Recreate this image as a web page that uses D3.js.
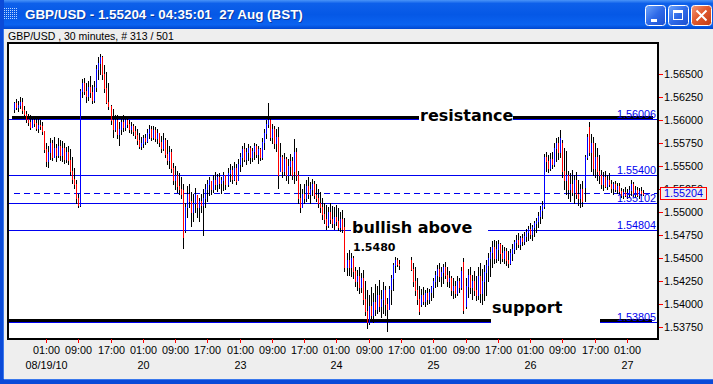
<!DOCTYPE html>
<html><head><meta charset="utf-8">
<script src="https://cdn.jsdelivr.net/npm/d3@7"></script>
<style>
html,body{margin:0;padding:0;background:#EEEEEE;overflow:hidden}
svg{display:block}
text{white-space:pre}
</style></head><body>
<svg id="c" width="713" height="384"></svg>
<script>
const windowTitle = "GBP/USD - 1.55204 - 04:35:01  27 Aug (BST)";
const subTitle = "GBP/USD , 30 minutes, # 313 / 501";

const barHigh = [
1.5620,1.5623,1.5621,1.5625,1.5624,1.5615,1.5610,1.5606,1.5605,1.5603,
1.5604,1.5603,1.5601,1.5600,1.5598,1.5588,1.5575,1.5572,1.5580,1.5578,
1.5581,1.5574,1.5580,1.5578,1.5577,1.5575,1.5571,1.5572,1.5568,1.5560,
1.5548,1.5535,1.5520,1.5634,1.5645,1.5646,1.5640,1.5642,1.5648,1.5638,
1.5642,1.5660,1.5668,1.5672,1.5670,1.5660,1.5652,1.5640,1.5616,1.5612,
1.5605,1.5605,1.5598,1.5602,1.5605,1.5603,1.5604,1.5600,1.5598,1.5596,
1.5594,1.5590,1.5586,1.5582,1.5584,1.5585,1.5590,1.5595,1.5593,1.5594,
1.5592,1.5590,1.5586,1.5583,1.5586,1.5580,1.5578,1.5572,1.5568,1.5553,
1.5550,1.5545,1.5542,1.5538,1.5530,1.5510,1.5528,1.5530,1.5522,1.5520,
1.5526,1.5518,1.5515,1.5520,1.5525,1.5530,1.5535,1.5538,1.5534,1.5540,
1.5543,1.5541,1.5542,1.5538,1.5543,1.5540,1.5548,1.5552,1.5550,1.5554,
1.5552,1.5558,1.5564,1.5572,1.5575,1.5570,1.5574,1.5572,1.5570,1.5575,
1.5574,1.5572,1.5570,1.5580,1.5590,1.5600,1.5619,1.5602,1.5596,1.5594,
1.5590,1.5592,1.5575,1.5562,1.5564,1.5560,1.5558,1.5563,1.5560,1.5579,
1.5570,1.5545,1.5530,1.5525,1.5530,1.5535,1.5538,1.5533,1.5536,1.5534,
1.5530,1.5525,1.5522,1.5515,1.5510,1.5508,1.5505,1.5510,1.5507,1.5505,
1.5508,1.5504,1.5500,1.5502,1.5493,1.5455,1.5459,1.5455,1.5452,1.5440,
1.5437,1.5440,1.5434,1.5437,1.5425,1.5415,1.5410,1.5418,1.5412,1.5422,
1.5420,1.5426,1.5415,1.5424,1.5420,1.5407,1.5420,1.5432,1.5445,1.5451,
1.5450,1.5448,null,null,null,null,null,1.5451,1.5445,1.5440,
1.5428,1.5420,1.5416,1.5418,1.5415,1.5417,1.5416,1.5420,1.5428,1.5436,
1.5442,1.5445,1.5440,1.5444,1.5446,1.5440,1.5436,1.5430,1.5428,1.5425,
1.5430,1.5428,1.5440,1.5450,1.5428,1.5438,1.5440,1.5432,1.5436,1.5430,
1.5440,1.5445,1.5438,1.5442,1.5448,1.5455,1.5462,1.5468,1.5470,1.5468,
1.5470,1.5466,1.5464,1.5462,1.5461,1.5458,1.5460,1.5465,1.5470,1.5475,
1.5477,1.5474,1.5476,1.5478,1.5482,1.5485,1.5488,1.5486,1.5490,1.5494,
1.5500,1.5506,1.5512,1.5563,1.5565,1.5562,1.5564,1.5565,1.5575,1.5580,
1.5582,1.5589,1.5578,1.5570,1.5566,1.5545,1.5542,1.5546,1.5540,1.5544,
1.5535,1.5530,1.5534,1.5562,1.5585,1.5598,1.5585,1.5582,1.5575,1.5570,
1.5562,1.5546,1.5543,1.5545,1.5540,1.5542,1.5535,1.5533,1.5534,1.5532,
1.5531,1.5526,1.5525,1.5527,1.5525,1.5528,1.5535,1.5533,1.5528,1.5527,
1.5526,1.5527,1.5524];

const barLow = [
1.5609,1.5612,1.5610,1.5613,1.5608,1.5603,1.5598,1.5595,1.5590,1.5592,
1.5594,1.5589,1.5587,1.5590,1.5585,1.5565,1.5550,1.5549,1.5558,1.5556,
1.5560,1.5555,1.5560,1.5557,1.5555,1.5553,1.5554,1.5552,1.5540,1.5532,
1.5526,1.5510,1.5505,1.5506,1.5625,1.5628,1.5620,1.5622,1.5625,1.5618,
1.5620,1.5632,1.5645,1.5650,1.5645,1.5630,1.5618,1.5612,1.5596,1.5582,
1.5588,1.5580,1.5573,1.5585,1.5588,1.5589,1.5592,1.5587,1.5586,1.5584,
1.5580,1.5574,1.5570,1.5568,1.5571,1.5574,1.5576,1.5580,1.5578,1.5579,
1.5577,1.5575,1.5572,1.5565,1.5567,1.5560,1.5552,1.5548,1.5543,1.5530,
1.5525,1.5522,1.5520,1.5515,1.5461,1.5478,1.5495,1.5505,1.5485,1.5490,
1.5500,1.5495,1.5490,1.5500,1.5475,1.5505,1.5512,1.5518,1.5520,1.5522,
1.5525,1.5523,1.5526,1.5521,1.5524,1.5525,1.5528,1.5534,1.5532,1.5535,
1.5530,1.5535,1.5545,1.5550,1.5555,1.5552,1.5556,1.5553,1.5555,1.5558,
1.5560,1.5553,1.5556,1.5558,1.5568,1.5580,1.5592,1.5578,1.5575,1.5570,
1.5566,1.5526,1.5545,1.5538,1.5540,1.5535,1.5532,1.5540,1.5536,1.5531,
1.5535,1.5510,1.5500,1.5505,1.5510,1.5512,1.5515,1.5510,1.5518,1.5515,
1.5512,1.5505,1.5500,1.5492,1.5488,1.5482,1.5484,1.5488,1.5484,1.5482,
1.5486,1.5480,1.5479,1.5478,1.5436,1.5432,1.5432,1.5430,1.5428,1.5420,
1.5415,1.5412,1.5413,1.5400,1.5388,1.5374,1.5378,1.5383,1.5380,1.5388,
1.5390,1.5392,1.5386,1.5390,1.5388,1.5371,1.5395,1.5400,1.5415,1.5435,
1.5441,1.5438,null,null,null,null,null,1.5437,1.5420,1.5410,
1.5400,1.5389,1.5398,1.5400,1.5398,1.5400,1.5401,1.5404,1.5408,1.5418,
1.5420,1.5425,1.5420,1.5423,1.5428,1.5420,1.5418,1.5410,1.5407,1.5408,
1.5410,1.5413,1.5416,1.5390,1.5396,1.5408,1.5412,1.5405,1.5410,1.5404,
1.5405,1.5402,1.5400,1.5404,1.5410,1.5425,1.5430,1.5440,1.5445,1.5446,
1.5448,1.5445,1.5447,1.5445,1.5442,1.5440,1.5443,1.5448,1.5455,1.5460,
1.5462,1.5460,1.5464,1.5465,1.5468,1.5470,1.5472,1.5470,1.5474,1.5478,
1.5484,1.5488,1.5494,1.5504,1.5545,1.5543,1.5546,1.5548,1.5550,1.5555,
1.5558,1.5560,1.5538,1.5525,1.5520,1.5515,1.5512,1.5518,1.5510,1.5515,
1.5508,1.5505,1.5507,1.5512,1.5558,1.5562,1.5545,1.5540,1.5538,1.5535,
1.5532,1.5526,1.5524,1.5527,1.5525,1.5528,1.5522,1.5520,1.5523,1.5521,
1.5520,1.5516,1.5515,1.5517,1.5515,1.5517,1.5518,1.5517,1.5516,1.5517,
1.5515,1.5518,1.5518];

const barOpen = [
1.5612,1.5618,1.5614,1.5616,1.5620,1.5611,1.5606,1.5601,1.5598,1.5592,
1.5600,1.5597,1.5591,1.5595,1.5593,1.5588,1.5568,1.5555,1.5565,1.5575,
1.5560,1.5570,1.5562,1.5572,1.5562,1.5570,1.5558,1.5565,1.5556,1.5545,
1.5536,1.5530,1.5515,1.5508,1.5632,1.5640,1.5632,1.5626,1.5636,1.5630,
1.5622,1.5636,1.5655,1.5662,1.5668,1.5650,1.5635,1.5620,1.5615,1.5600,
1.5590,1.5600,1.5585,1.5590,1.5598,1.5592,1.5600,1.5596,1.5590,1.5594,
1.5588,1.5584,1.5578,1.5572,1.5575,1.5580,1.5577,1.5586,1.5590,1.5582,
1.5589,1.5580,1.5586,1.5576,1.5570,1.5578,1.5563,1.5556,1.5565,1.5548,
1.5535,1.5540,1.5528,1.5525,1.5524,1.5480,1.5505,1.5520,1.5512,1.5500,
1.5510,1.5518,1.5505,1.5512,1.5508,1.5515,1.5525,1.5530,1.5534,1.5525,
1.5535,1.5530,1.5538,1.5532,1.5535,1.5540,1.5530,1.5542,1.5546,1.5536,
1.5548,1.5535,1.5552,1.5560,1.5568,1.5558,1.5565,1.5570,1.5560,1.5566,
1.5572,1.5563,1.5568,1.5560,1.5576,1.5586,1.5596,1.5600,1.5582,1.5590,
1.5575,1.5582,1.5545,1.5560,1.5545,1.5558,1.5540,1.5550,1.5555,1.5545,
1.5565,1.5540,1.5515,1.5505,1.5520,1.5515,1.5528,1.5520,1.5525,1.5530,
1.5518,1.5515,1.5510,1.5505,1.5498,1.5492,1.5486,1.5500,1.5492,1.5488,
1.5495,1.5490,1.5484,1.5492,1.5484,1.5440,1.5448,1.5440,1.5450,1.5436,
1.5425,1.5430,1.5418,1.5428,1.5405,1.5392,1.5380,1.5398,1.5388,1.5402,
1.5395,1.5410,1.5398,1.5405,1.5415,1.5400,1.5395,1.5416,1.5428,1.5442,
1.5448,1.5444,null,null,null,null,null,1.5448,1.5438,1.5425,
1.5415,1.5405,1.5400,1.5410,1.5403,1.5412,1.5405,1.5413,1.5418,1.5425,
1.5432,1.5438,1.5430,1.5435,1.5440,1.5432,1.5425,1.5428,1.5415,1.5420,
1.5412,1.5425,1.5418,1.5446,1.5398,1.5420,1.5432,1.5418,1.5425,1.5415,
1.5410,1.5430,1.5412,1.5425,1.5435,1.5442,1.5450,1.5456,1.5462,1.5450,
1.5460,1.5465,1.5455,1.5450,1.5458,1.5448,1.5445,1.5455,1.5460,1.5467,
1.5470,1.5465,1.5472,1.5468,1.5474,1.5478,1.5482,1.5476,1.5484,1.5488,
1.5490,1.5496,1.5502,1.5507,1.5560,1.5555,1.5548,1.5558,1.5552,1.5570,
1.5575,1.5565,1.5575,1.5545,1.5535,1.5540,1.5525,1.5530,1.5522,1.5535,
1.5520,1.5515,1.5525,1.5527,1.5560,1.5592,1.5565,1.5575,1.5548,1.5560,
1.5545,1.5540,1.5530,1.5538,1.5528,1.5535,1.5530,1.5526,1.5530,1.5525,
1.5528,1.5523,1.5519,1.5522,1.5518,1.5521,1.5524,1.5530,1.5520,1.5524,
1.5519,1.5523,1.5521];

const barClose = [
1.5618,1.5614,1.5616,1.5620,1.5611,1.5606,1.5601,1.5598,1.5592,1.5600,
1.5597,1.5591,1.5595,1.5593,1.5588,1.5568,1.5555,1.5565,1.5575,1.5560,
1.5570,1.5562,1.5572,1.5562,1.5570,1.5558,1.5565,1.5556,1.5545,1.5536,
1.5530,1.5515,1.5508,1.5632,1.5640,1.5632,1.5626,1.5636,1.5630,1.5622,
1.5636,1.5655,1.5662,1.5668,1.5650,1.5635,1.5620,1.5615,1.5600,1.5590,
1.5600,1.5585,1.5590,1.5598,1.5592,1.5600,1.5596,1.5590,1.5594,1.5588,
1.5584,1.5578,1.5572,1.5575,1.5580,1.5577,1.5586,1.5590,1.5582,1.5589,
1.5580,1.5586,1.5576,1.5570,1.5578,1.5563,1.5556,1.5565,1.5548,1.5535,
1.5540,1.5528,1.5525,1.5520,1.5473,1.5505,1.5520,1.5512,1.5500,1.5510,
1.5520,1.5505,1.5512,1.5508,1.5515,1.5525,1.5530,1.5535,1.5525,1.5535,
1.5530,1.5538,1.5532,1.5535,1.5540,1.5530,1.5542,1.5546,1.5536,1.5548,
1.5534,1.5552,1.5560,1.5568,1.5558,1.5565,1.5570,1.5560,1.5566,1.5572,
1.5563,1.5568,1.5560,1.5576,1.5586,1.5596,1.5600,1.5582,1.5590,1.5575,
1.5582,1.5540,1.5560,1.5545,1.5558,1.5540,1.5550,1.5555,1.5540,1.5565,
1.5540,1.5515,1.5505,1.5520,1.5515,1.5528,1.5520,1.5525,1.5530,1.5518,
1.5515,1.5510,1.5505,1.5498,1.5492,1.5486,1.5500,1.5492,1.5488,1.5495,
1.5490,1.5484,1.5492,1.5482,1.5440,1.5448,1.5440,1.5450,1.5436,1.5425,
1.5430,1.5418,1.5428,1.5405,1.5392,1.5380,1.5398,1.5388,1.5402,1.5395,
1.5410,1.5398,1.5405,1.5415,1.5400,1.5395,1.5416,1.5428,1.5442,1.5448,
1.5444,1.5442,null,null,null,null,null,1.5438,1.5425,1.5415,
1.5405,1.5392,1.5410,1.5403,1.5412,1.5405,1.5413,1.5418,1.5425,1.5432,
1.5438,1.5430,1.5435,1.5440,1.5432,1.5425,1.5428,1.5415,1.5420,1.5412,
1.5425,1.5418,1.5436,1.5393,1.5420,1.5432,1.5418,1.5425,1.5415,1.5410,
1.5430,1.5412,1.5425,1.5435,1.5442,1.5450,1.5456,1.5462,1.5450,1.5460,
1.5465,1.5455,1.5450,1.5458,1.5448,1.5445,1.5455,1.5460,1.5467,1.5470,
1.5465,1.5472,1.5468,1.5474,1.5478,1.5482,1.5476,1.5484,1.5488,1.5490,
1.5496,1.5502,1.5508,1.5560,1.5555,1.5548,1.5558,1.5552,1.5570,1.5575,
1.5565,1.5580,1.5545,1.5535,1.5540,1.5525,1.5530,1.5522,1.5535,1.5520,
1.5515,1.5525,1.5512,1.5560,1.5582,1.5565,1.5575,1.5548,1.5560,1.5545,
1.5540,1.5530,1.5538,1.5528,1.5535,1.5530,1.5526,1.5530,1.5525,1.5528,
1.5523,1.5519,1.5522,1.5518,1.5521,1.5524,1.5530,1.5520,1.5524,1.5519,
1.5523,1.5521,1.5520];

const priceTicks = [1.5375,1.5400,1.5425,1.5450,1.5475,1.5500,1.5525,1.5550,1.5575,1.5600,1.5625,1.5650];
const timeLabels = ["01:00","09:00","17:00"];
const dayLabels = ["08/19/10","20","23","24","25","26","27"];
const levelLines = [1.56006, 1.55400, 1.55102, 1.54804, 1.53805];
const currentPrice = 1.55204;
const resistanceLevel = 1.5603;
const supportLevel = 1.5383;
const noteTexts = ["resistance","bullish above","support","1.5480"];

const svg = d3.select("#c");
const N = barHigh.length;
const x = d3.scaleLinear().domain([0, N - 1]).range([13.7, 643]).interpolate(d3.interpolateRound);
const y = d3.scaleLinear().domain([1.5375, 1.565]).range([327, 74]).interpolate(d3.interpolateRound);
const AX = "'Liberation Sans', Arial, sans-serif";
const BOLD = "'DejaVu Sans', Verdana, sans-serif";

// ---------- window chrome ----------
const defs = svg.append("defs");
const tg = defs.append("linearGradient").attr("id","tg").attr("x1",0).attr("y1",0).attr("x2",0).attr("y2",1);
[[0,"#4A94F8"],[0.12,"#0E60EA"],[0.5,"#0558E6"],[0.85,"#0B63F0"],[1,"#0047D0"]]
  .forEach(s => tg.append("stop").attr("offset", s[0]).attr("stop-color", s[1]));
const bg = defs.append("linearGradient").attr("id","bg").attr("x1",0).attr("y1",0).attr("x2",1).attr("y2",1);
[[0,"#6FA6FB"],[0.5,"#2F6AE8"],[1,"#1B4ECF"]].forEach(s => bg.append("stop").attr("offset", s[0]).attr("stop-color", s[1]));
const cg = defs.append("linearGradient").attr("id","cg").attr("x1",0).attr("y1",0).attr("x2",1).attr("y2",1);
[[0,"#F29A7C"],[0.45,"#E25A2E"],[1,"#C03A14"]].forEach(s => cg.append("stop").attr("offset", s[0]).attr("stop-color", s[1]));
const pat = defs.append("pattern").attr("id","dots").attr("width",2).attr("height",2).attr("patternUnits","userSpaceOnUse");
pat.append("rect").attr("width",1).attr("height",1).attr("fill","#B8D4FF");

svg.append("rect").attr("width",713).attr("height",384).attr("fill","#EEEEEE");
svg.append("rect").attr("width",713).attr("height",29).attr("fill","url(#tg)");
svg.append("rect").attr("x",0).attr("y",0).attr("width",4).attr("height",384).attr("fill","#0A4AD8");
svg.append("rect").attr("x",3).attr("y",29).attr("width",1).attr("height",350).attr("fill","#3A78EC");
svg.append("rect").attr("x",0).attr("y",379).attr("width",713).attr("height",5).attr("fill","#0A4AD8");
svg.append("rect").attr("x",4).attr("y",379).attr("width",709).attr("height",1).attr("fill","#3A78EC");
svg.append("rect").attr("x",4).attr("y",7).attr("width",14).attr("height",12).attr("fill","url(#dots)");

svg.append("text").attr("x",26).attr("y",19.5).text(windowTitle)
  .attr("font-family",AX).attr("font-weight","bold").attr("font-size",13.4).attr("fill","#0A2A80").attr("opacity",0.7);
svg.append("text").attr("x",25).attr("y",18.5).text(windowTitle)
  .attr("font-family",AX).attr("font-weight","bold").attr("font-size",13.4).attr("fill","#FFFFFF");

// buttons
[645, 668].forEach(bx => svg.append("rect").attr("x",bx+0.5).attr("y",5.5).attr("width",20).attr("height",20).attr("rx",3)
  .attr("fill","url(#bg)").attr("stroke","#FFFFFF").attr("stroke-width",1));
svg.append("rect").attr("x",691.5).attr("y",5.5).attr("width",20).attr("height",20).attr("rx",3)
  .attr("fill","url(#cg)").attr("stroke","#FFFFFF").attr("stroke-width",1);
svg.append("rect").attr("x",651).attr("y",19).attr("width",6).attr("height",3).attr("fill","#FFFFFF");
svg.append("rect").attr("x",673.5).attr("y",10.5).attr("width",9).attr("height",9).attr("fill","none").attr("stroke","#FFFFFF");
svg.append("rect").attr("x",673).attr("y",10).attr("width",10).attr("height",3).attr("fill","#FFFFFF");
svg.append("path").attr("d","M696.5,10.5 L706.5,20.5 M706.5,10.5 L696.5,20.5").attr("stroke","#FFFFFF").attr("stroke-width",2);

svg.append("text").attr("x",8).attr("y",39.5).text(subTitle)
  .attr("font-family",AX).attr("font-size",10.5).attr("fill","#000");

// ---------- plot ----------
const P = {l: 8, t: 43, r: 658, b: 339};
svg.append("rect").attr("x",P.l).attr("y",P.t).attr("width",P.r-P.l).attr("height",P.b-P.t).attr("fill","#FFFFFF");
defs.append("clipPath").attr("id","pc").append("rect").attr("x",P.l+1).attr("y",P.t+1).attr("width",P.r-P.l-2).attr("height",P.b-P.t-2);
const g = svg.append("g").attr("clip-path","url(#pc)").attr("shape-rendering","crispEdges");
const BLUE = "#0000F0";

// blue level lines
g.selectAll("line.lvl").data(levelLines).join("line").attr("class","lvl")
  .attr("x1",P.l).attr("x2",P.r).attr("y1",d => y(d)+0.5).attr("y2",d => y(d)+0.5)
  .attr("stroke",BLUE).attr("stroke-width",1);
// current price dashed
g.append("line").attr("x1",14).attr("x2",P.r).attr("y1",y(currentPrice)+0.5).attr("y2",y(currentPrice)+0.5)
  .attr("stroke",BLUE).attr("stroke-dasharray","6,4");
// thick black resistance / support
g.append("line").attr("x1",x(-1)).attr("x2",653).attr("y1",y(resistanceLevel)+0.5).attr("y2",y(resistanceLevel)+0.5)
  .attr("stroke","#000").attr("stroke-width",3);
g.append("line").attr("x1",P.l).attr("x2",652).attr("y1",y(supportLevel)+0.5).attr("y2",y(supportLevel)+0.5)
  .attr("stroke","#000").attr("stroke-width",3);

// level labels
svg.append("g").selectAll("text").data(levelLines).join("text")
  .attr("x",656).attr("y",d => y(d)-1).attr("text-anchor","end")
  .attr("font-family",AX).attr("font-size",10.8).attr("fill",BLUE)
  .text(d => d3.format(".5f")(d));

// annotation boxes + text
const ann = svg.append("g");
function note(txt, tx, ty, bx0, bx1, by0, by1, size) {
  ann.append("rect").attr("x",bx0).attr("y",by0).attr("width",bx1-bx0).attr("height",by1-by0).attr("fill","#FFFFFF");
  ann.append("text").attr("x",tx).attr("y",ty).text(txt)
    .attr("font-family",BOLD).attr("font-weight","bold").attr("font-size",size).attr("fill","#000");
}
const yr = y(resistanceLevel), yb = y(levelLines[3]), ys = y(supportLevel);
note(noteTexts[0], 420, yr+4, 419, 513, yr-9, yr+4, 16);
note(noteTexts[1], 352, yb+3, 351, 488, yb-12, yb+4, 16);
note(noteTexts[2], 492, ys-7.5, 491, 600, ys-21, ys+3, 16);
ann.append("text").attr("x",353).attr("y",yb+20.5).text(noteTexts[3])
  .attr("font-family",BOLD).attr("font-weight","bold").attr("font-size",11).attr("fill","#000");

// bars
const idx = d3.range(N).filter(i => barHigh[i] != null);
const bars = g.append("g");
bars.selectAll("line.hl").data(idx).join("line").attr("class","hl")
  .attr("x1",i => x(i)+0.5).attr("x2",i => x(i)+0.5)
  .attr("y1",i => y(barHigh[i])).attr("y2",i => y(barLow[i])+1)
  .attr("stroke","#000").attr("stroke-width",1);
bars.selectAll("line.oc").data(idx.filter(i => barOpen[i] !== barClose[i])).join("line").attr("class","oc")
  .attr("x1",i => x(i)+0.5).attr("x2",i => x(i)+0.5)
  .attr("y1",i => y(Math.max(barOpen[i],barClose[i]))).attr("y2",i => y(Math.min(barOpen[i],barClose[i]))+1)
  .attr("stroke",i => barClose[i] > barOpen[i] ? "#0000FF" : "#FF0000").attr("stroke-width",1);

// plot frame
svg.append("rect").attr("x",P.l).attr("y",P.t).attr("width",P.r-P.l).attr("height",P.b-P.t)
  .attr("fill","none").attr("stroke","#000").attr("stroke-width",2);

// ---------- axes ----------
const yAxis = svg.append("g").attr("transform",`translate(${P.r+1},0)`)
  .call(d3.axisRight(y).tickValues(priceTicks).tickFormat(d3.format(".5f")).tickSize(4).tickPadding(1));
yAxis.select(".domain").remove();
yAxis.selectAll(".tick line").attr("stroke","#FF0000");
yAxis.selectAll(".tick text").attr("fill","#000").attr("font-family",AX).attr("font-size",10.8);

const tickIdx = d3.range(16, N, 16).filter(i => i <= 304);
const xAxis = svg.append("g").attr("transform",`translate(0,${P.b})`)
  .call(d3.axisBottom(x).tickValues(tickIdx).tickFormat((d,i) => timeLabels[i % 3]).tickSize(4).tickPadding(3));
xAxis.select(".domain").remove();
xAxis.selectAll(".tick line").attr("stroke","#FF0000");
xAxis.selectAll(".tick text").attr("fill","#000").attr("font-family",AX).attr("font-size",10.8);

const dayIdx = tickIdx.filter((d,i) => i % 3 === 0);
const dAxis = svg.append("g").attr("transform",`translate(0,${P.b})`)
  .call(d3.axisBottom(x).tickValues(dayIdx).tickFormat((d,i) => dayLabels[i]).tickSize(0).tickPadding(22));
dAxis.select(".domain").remove();
dAxis.selectAll(".tick text").attr("fill","#000").attr("font-family",AX).attr("font-size",10.8);

// current price box
const yc = y(currentPrice);
svg.append("rect").attr("x",660.5).attr("y",yc-5.5).attr("width",46).attr("height",12)
  .attr("fill","#EEEEEE").attr("stroke","#FF0000").attr("stroke-width",1);
svg.append("text").attr("x",664).attr("y",yc+4).text(d3.format(".5f")(currentPrice))
  .attr("font-family",AX).attr("font-size",10.8).attr("fill",BLUE);
</script>
</body></html>
